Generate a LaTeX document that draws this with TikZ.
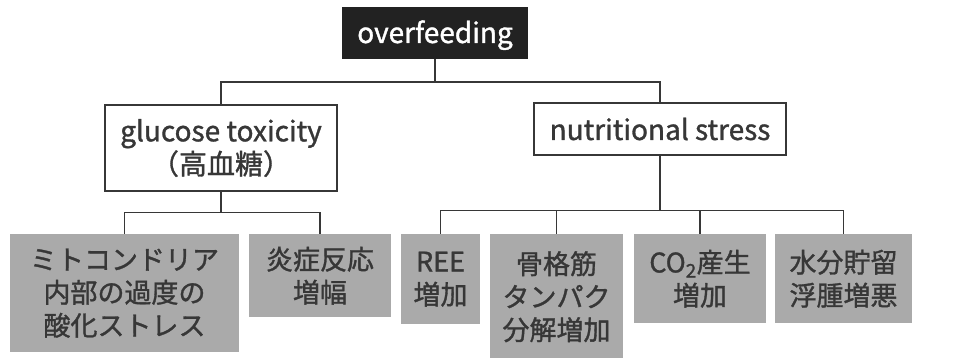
\documentclass[tikz,border=0pt]{standalone}
\usepackage{fontspec}
\setmainfont{Noto Sans CJK JP}[FakeBold=1.2]
\definecolor{inkgray}{RGB}{55,55,55}
\definecolor{leafgray}{RGB}{170,170,170}
\definecolor{topfill}{RGB}{34,34,34}

\begin{document}
\begin{tikzpicture}[x=1pt,y=-1pt,
  every node/.style={font=\fontsize{27}{33}\selectfont,text=inkgray,align=center,inner sep=0pt},
  latin/.style={font=\fontsize{28}{33}\selectfont},
  text drop/.style={execute at begin node={\rule{0pt}{#1}}},
  topbox/.style={fill=topfill,text=white,latin,text drop=27pt},
  midbox/.style={draw=inkgray,line width=1.4pt,fill=white,latin},
  leafbox/.style={fill=leafgray,anchor=north,text drop=30pt},
  link/.style={draw=inkgray,line width=1.4pt}]
  \useasboundingbox (0,0) rectangle (955,358);
  %
  \node[topbox,minimum width=186pt,minimum height=52pt] (over) at (435,33) {overfeeding};
  %
  \node[midbox,text drop=31pt,minimum width=232pt,minimum height=86pt] (gluc) at (221,148) {glucose toxicity\\（高血糖）};
  \node[midbox,minimum width=252pt,minimum height=52pt] (nutr) at (660,129) {nutritional stress};
  %
  \node[leafbox,minimum width=229pt,minimum height=118pt] (mito) at (124.5,234) {ミトコンドリア\\内部の過度の\\酸化ストレス};
  \node[leafbox,minimum width=142pt,minimum height=83pt] (ensho) at (320,234) {炎症反応\\増幅};
  %
  \node[leafbox,minimum width=79pt,minimum height=90pt] (ree) at (440.5,234) {REE\\増加};
  \node[leafbox,minimum width=133pt,minimum height=125pt] (kin) at (556.5,234) {骨格筋\\タンパク\\分解増加};
  \node[leafbox,minimum width=132pt,minimum height=89pt] (co2) at (700,234) {CO\textsubscript{2}産生\\増加};
  \node[leafbox,minimum width=137pt,minimum height=89pt] (mizu) at (843.5,234) {水分貯留\\浮腫増悪};
  %
  \draw[link] (over.south) -- ++(0,23) -| (gluc.north);
  \draw[link] (over.south) -- ++(0,23) -| (nutr.north);
  %
  \draw[link] (gluc.south) -- ++(0,21) -| (mito.north);
  \draw[link] (gluc.south) -- ++(0,21) -| (ensho.north);
  %
  \draw[link] (nutr.south) -- ++(0,55) -| (ree.north);
  \draw[link] (nutr.south) -- ++(0,55) -| (kin.north);
  \draw[link] (nutr.south) -- ++(0,55) -| (co2.north);
  \draw[link] (nutr.south) -- ++(0,55) -| (mizu.north);
  %
\end{tikzpicture}
\end{document}
